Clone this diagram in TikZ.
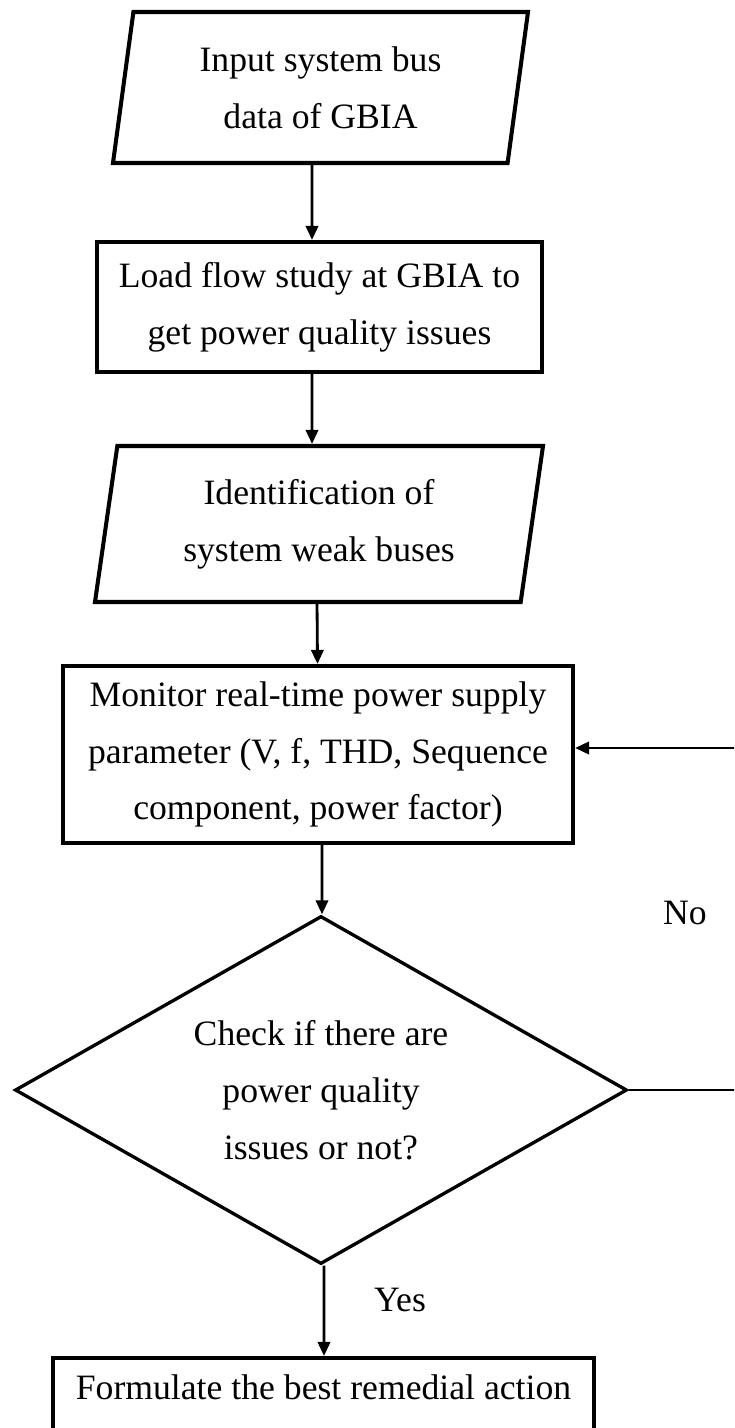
\documentclass[tikz,border=0pt]{standalone}
\usepackage{fontspec}
\setmainfont{Liberation Serif}
\usetikzlibrary{shapes.geometric,arrows.meta}

\tikzset{
  base/.style={draw, line width=2.3pt, align=center, inner sep=0pt,
    font=\fontsize{20.3pt}{32.3pt}\selectfont},
  iobox/.style={base, trapezium, trapezium left angle=76, trapezium right angle=104,
    trapezium stretches body},
  procbox/.style={base, rectangle},
  decbox/.style={base, diamond, aspect=1.76, line width=1.9pt},
  arr/.style={line width=1.6pt, -{Triangle[width=7pt,length=8pt]}},
  lbl/.style={font=\fontsize{20.3pt}{24pt}\selectfont}
}

\begin{document}
\begin{tikzpicture}[x=0.2mm,y=-0.2mm]
            \useasboundingbox (0,0) rectangle (734,1428);
            \clip (0,0) rectangle (734,1428);

            \node[iobox, minimum width=83mm, minimum height=30.2mm] (inp) at (320.5,87.5)
                {Input system bus\\data of GBIA};
            \node[procbox, minimum width=89mm, minimum height=26mm] (load) at (319.5,307)
                {Load flow study at GBIA to\\get power quality issues};
            \node[iobox, minimum width=89.6mm, minimum height=31.2mm] (ident) at (319,524)
                {Identification of\\system weak buses};
            \node[procbox, minimum width=102mm, minimum height=35.4mm] (mon) at (318,754.5)
                {Monitor real-time power supply\\parameter (V, f, THD, Sequence\\component, power factor)};
            \node[decbox, minimum width=122.4mm, minimum height=69.6mm] (chk) at (321,1090)
                {Check if there are\\power quality\\issues or not?};
            \node[procbox, anchor=north, minimum width=108.2mm, text height=8.2mm, text depth=20mm] (act) at (323.5,1356)
                {Formulate the best remedial action};

            \node[lbl] (nolbl) at (685,913) {No};
            \node[lbl] (yeslbl) at (400,1300) {Yes};

            \draw[arr] ([xshift=-1.7mm]inp.south) -- ([xshift=-1.5mm]load.north);
            \draw[arr] ([xshift=-1.5mm]load.south) -- ([xshift=-1.4mm]ident.north);
            \draw[arr] ([xshift=-0.4mm]ident.south) -- ([xshift=-0.1mm]mon.north);
            \draw[arr] ([xshift=0.8mm]mon.south) -- ([xshift=0.2mm]chk.north);
            \draw[arr] ([xshift=0.6mm]chk.south) -- ([xshift=0.1mm]act.north);

            % back to monitoring when nothing is found
            \coordinate (ret) at (745,748);
            \draw[arr] (chk.east) -- (chk.east -| ret) -- (ret) -- (ret -| mon.east);

\end{tikzpicture}
\end{document}
